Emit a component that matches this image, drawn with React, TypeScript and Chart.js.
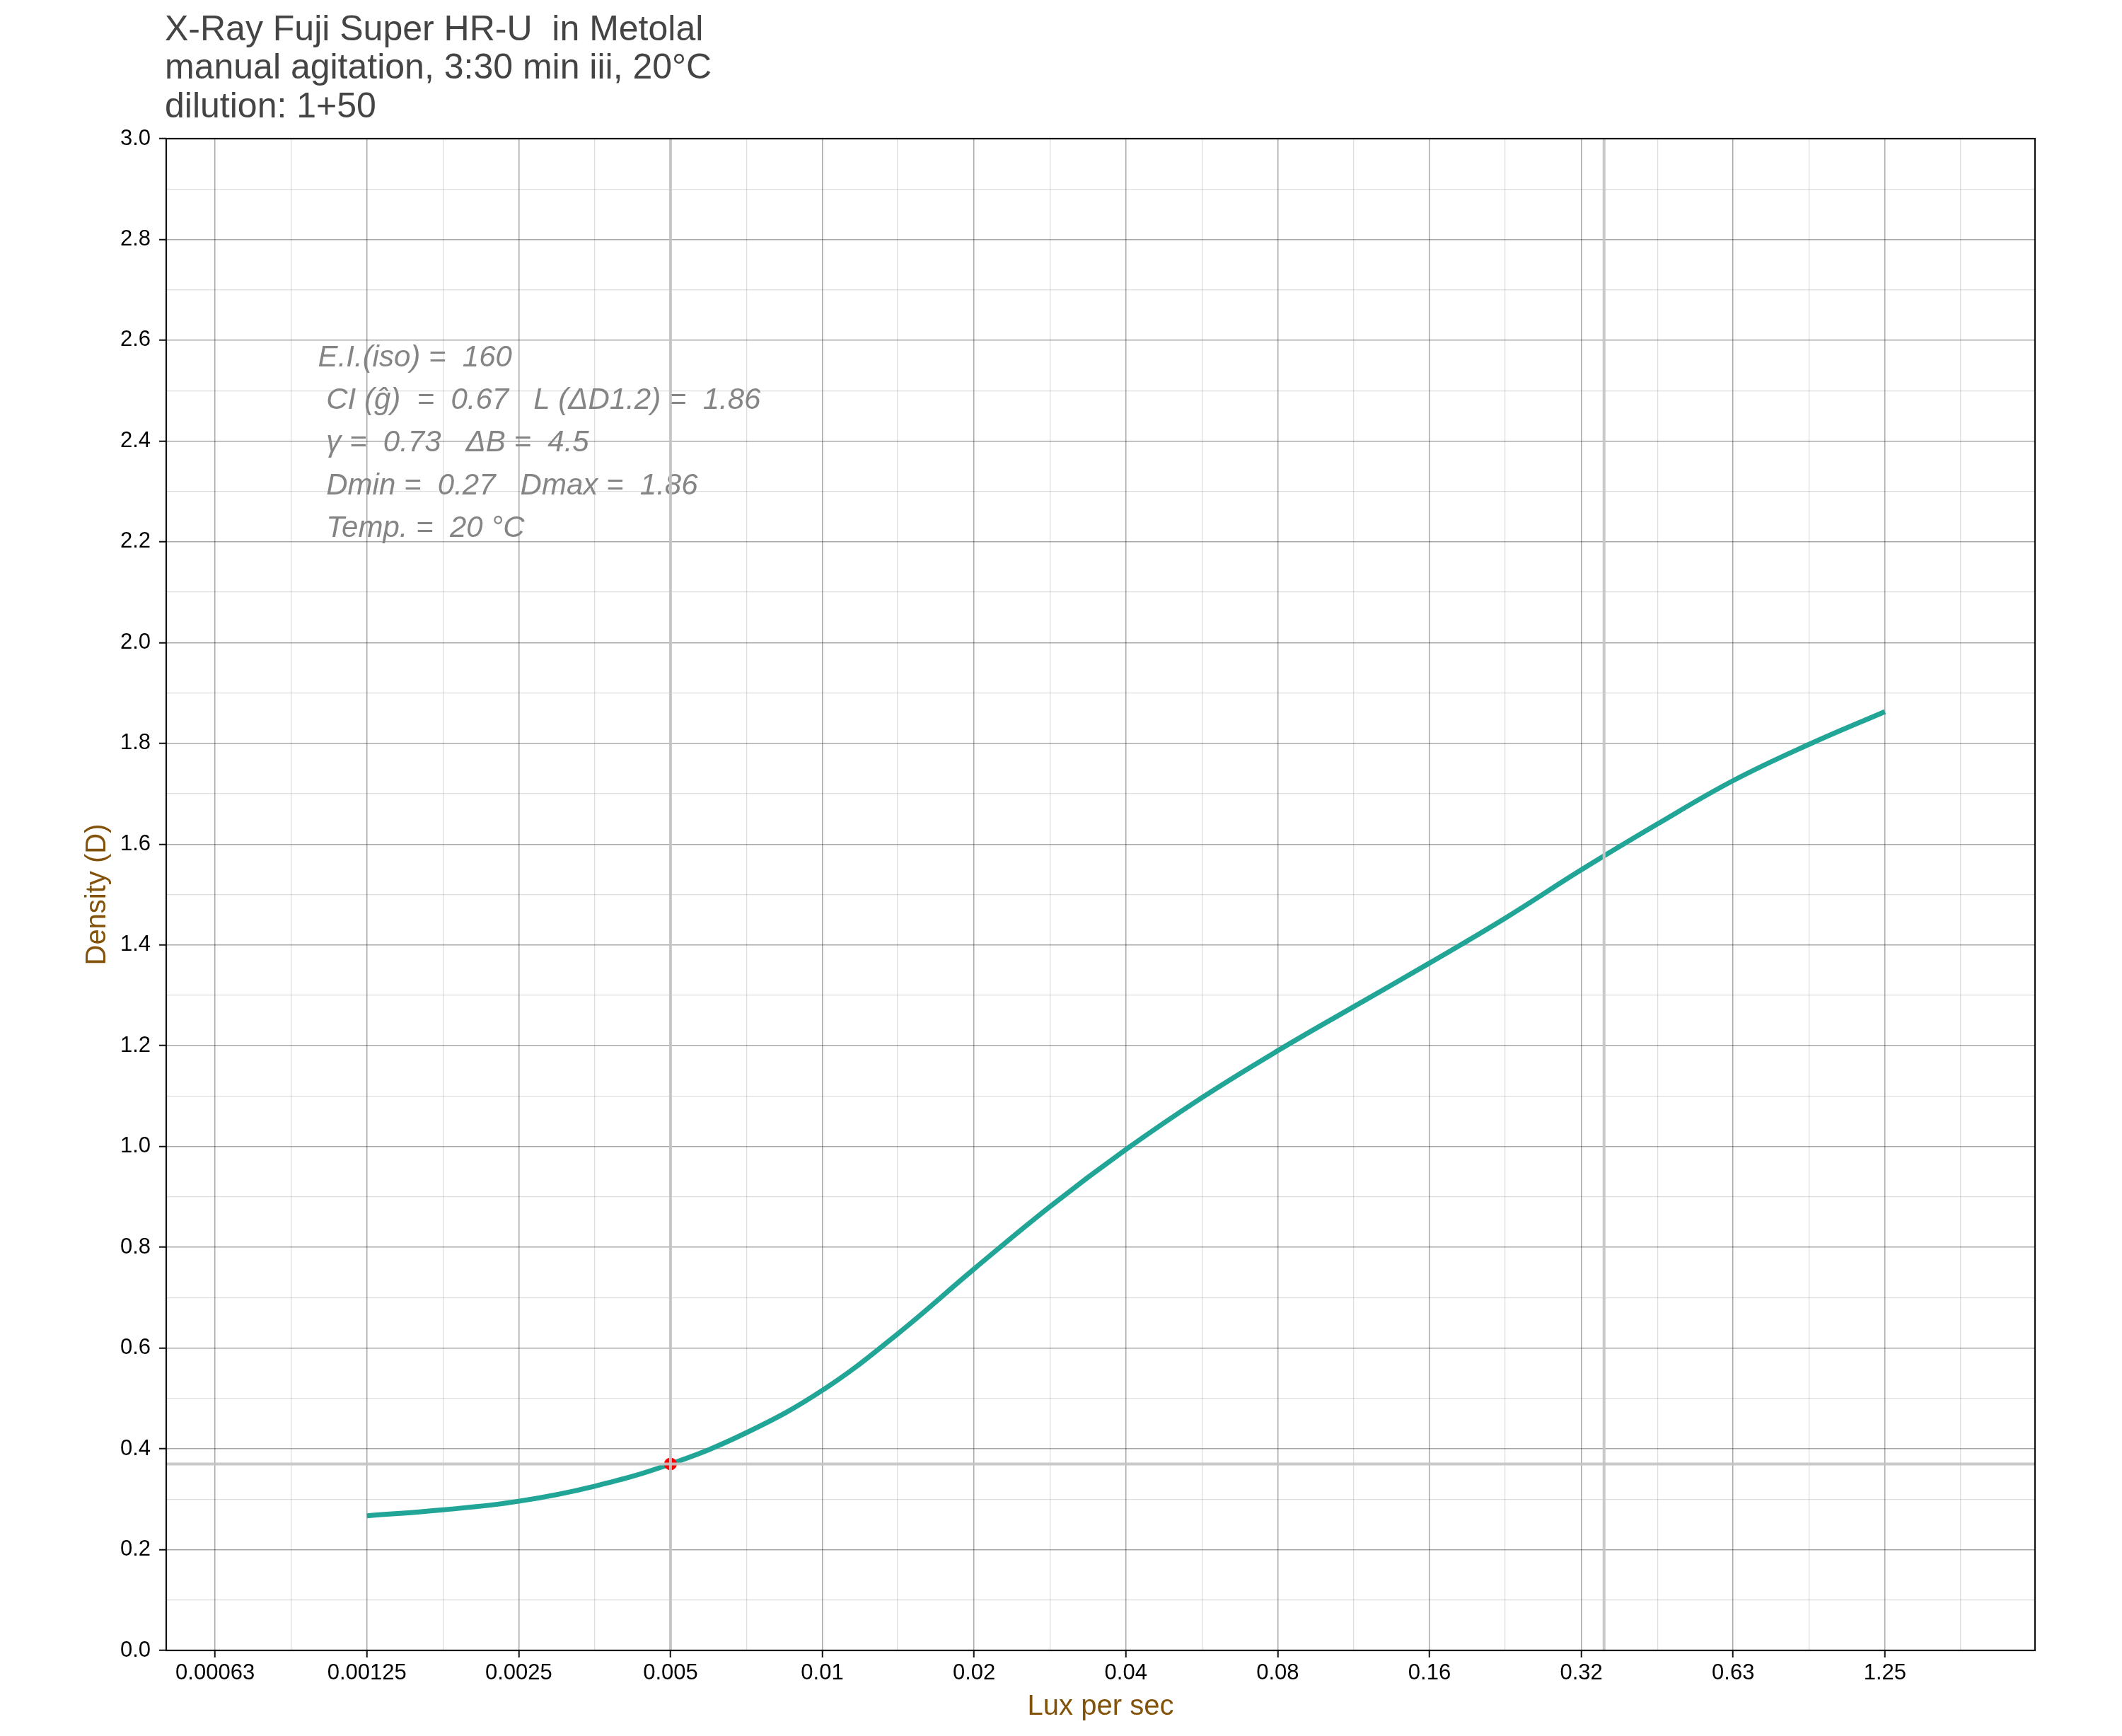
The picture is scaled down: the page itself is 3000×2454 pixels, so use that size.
import React, { useEffect, useRef } from "react";
import { Chart, registerables } from "chart.js";

Chart.register(...registerables);

// ---------- data ----------
const TITLE_LINES = [
  "X-Ray Fuji Super HR-U  in Metolal",
  "manual agitation, 3:30 min iii, 20°C",
  "dilution: 1+50",
];

const ANNOTATION_LINES = [
  "E.I.(iso) =  160",
  " CI (ĝ)  =  0.67   L (ΔD1.2) =  1.86",
  " γ =  0.73   ΔB =  4.5",
  " Dmin =  0.27   Dmax =  1.86",
  " Temp. =  20 °C",
];

const X_TICK_VALUES = [0.000625, 0.00125, 0.0025, 0.005, 0.01, 0.02, 0.04, 0.08, 0.16, 0.32, 0.64, 1.28];
const X_TICK_LABELS = ["0.00063", "0.00125", "0.0025", "0.005", "0.01", "0.02", "0.04", "0.08", "0.16", "0.32", "0.63", "1.25"];
const X_MINOR_VALUES = [0.000884, 0.00177, 0.00354, 0.00707, 0.0141, 0.0283, 0.0566, 0.113, 0.226, 0.453, 0.905, 1.81];
const X_MIN = 0.0005;
const X_MAX = 2.54;

const Y_MIN = 0;
const Y_MAX = 3;

const CURVE_LUX = [
  0.00125, 0.00177, 0.0025, 0.00354, 0.005, 0.00707, 0.01, 0.0141, 0.02, 0.0283, 0.04,
  0.0566, 0.08, 0.113, 0.16, 0.226, 0.32, 0.453, 0.64, 0.905, 1.28,
];
const CURVE_DENSITY = [
  0.267, 0.279, 0.296, 0.326, 0.37, 0.432, 0.516, 0.628, 0.757, 0.881, 0.994,
  1.097, 1.19, 1.277, 1.364, 1.453, 1.549, 1.64, 1.726, 1.798, 1.863,
];

const SPEED_POINT_LUX = 0.005;
const SPEED_POINT_DENSITY = 0.37;
const CONTRAST_LINE_LUX = 0.355;

const ANNOTATION_LUX = 0.001;
const ANNOTATION_DENSITY = 2.548;

// ---------- styles ----------
const FONT = '"Liberation Sans", Arial, Helvetica, sans-serif';
const CURVE_COLOR = "#21a597";
const REF_COLOR = "rgba(196,196,196,0.92)";
const GRID_MAJOR = "rgba(0,0,0,0.34)";
const GRID_MINOR = "rgba(0,0,0,0.13)";
const AXIS_TITLE_COLOR = "#83530b";

const isMajorY = (v: number) => Math.round(v * 10) % 2 === 0;

const overlayPlugin = {
  id: "overlay",
  beforeDatasetsDraw(chart: any) {
    const { ctx, scales } = chart;
    const x = scales.x.getPixelForValue(ANNOTATION_LUX);
    const y0 = scales.y.getPixelForValue(ANNOTATION_DENSITY);
    const step = scales.y.getPixelForValue(0) - scales.y.getPixelForValue(0.0845);
    ctx.save();
    ctx.fillStyle = "#858585";
    ctx.font = `italic 42px ${FONT}`;
    ctx.textAlign = "left";
    ctx.textBaseline = "alphabetic";
    ANNOTATION_LINES.forEach((t, i) => ctx.fillText(t, x, y0 + i * step));
    ctx.restore();
  },
  afterDraw(chart: any) {
    const { ctx, chartArea } = chart;
    ctx.save();
    ctx.strokeStyle = "#111";
    ctx.lineWidth = 2.2;
    ctx.strokeRect(chartArea.left, chartArea.top, chartArea.right - chartArea.left, chartArea.bottom - chartArea.top);
    ctx.fillStyle = "#444444";
    ctx.font = `50px ${FONT}`;
    ctx.textAlign = "left";
    ctx.textBaseline = "alphabetic";
    TITLE_LINES.forEach((t, i) => ctx.fillText(t, chartArea.left - 2, 57 + i * 54.3));
    ctx.restore();
  },
};

export default function App() {
  const canvasRef = useRef<HTMLCanvasElement | null>(null);

  useEffect(() => {
    const canvas = canvasRef.current;
    if (!canvas) return;

    const curve = CURVE_LUX.map((x, i) => ({ x, y: CURVE_DENSITY[i] }));

    const chart = new Chart(canvas, {
      type: "line",
      data: {
        datasets: [
          {
            label: "h-ref",
            data: [
              { x: X_MIN, y: SPEED_POINT_DENSITY },
              { x: X_MAX, y: SPEED_POINT_DENSITY },
            ],
            borderColor: REF_COLOR,
            borderWidth: 4,
            pointRadius: 0,
          },
          {
            label: "v-ref-speed",
            data: [
              { x: SPEED_POINT_LUX, y: Y_MIN },
              { x: SPEED_POINT_LUX, y: Y_MAX },
            ],
            borderColor: REF_COLOR,
            borderWidth: 4,
            pointRadius: 0,
          },
          {
            label: "v-ref-contrast",
            data: [
              { x: CONTRAST_LINE_LUX, y: Y_MIN },
              { x: CONTRAST_LINE_LUX, y: Y_MAX },
            ],
            borderColor: REF_COLOR,
            borderWidth: 4,
            pointRadius: 0,
          },
          {
            label: "speed point",
            data: [{ x: SPEED_POINT_LUX, y: SPEED_POINT_DENSITY }],
            showLine: false,
            pointRadius: 9,
            pointBackgroundColor: "#ff0000",
            pointBorderColor: "#ff0000",
            pointBorderWidth: 0,
          },
          {
            label: "curve",
            data: curve,
            borderColor: CURVE_COLOR,
            borderWidth: 7,
            pointRadius: 0,
            tension: 0.4,
            borderCapStyle: "butt",
          },
        ],
      },
      options: {
        animation: false,
        responsive: false,
        devicePixelRatio: 1,
        events: [],
        layout: { padding: { top: 196, right: 123, left: 0, bottom: 0 } },
        plugins: {
          legend: { display: false },
          tooltip: { enabled: false },
          title: { display: false },
        },
        scales: {
          x: {
            type: "logarithmic",
            min: X_MIN,
            max: X_MAX,
            bounds: "data",
            afterBuildTicks: (scale: any) => {
              const all = [
                ...X_TICK_VALUES.map((v) => ({ value: v, major: true })),
                ...X_MINOR_VALUES.filter((v) => v > X_MIN && v < X_MAX).map((v) => ({ value: v, major: false })),
              ].sort((a, b) => a.value - b.value);
              scale.ticks = all;
            },
            afterFit: (scale: any) => {
              scale.height = 121;
            },
            border: { display: false },
            grid: {
              color: (c: any) => (c.tick && c.tick.major ? GRID_MAJOR : GRID_MINOR),
              lineWidth: (c: any) => (c.tick && c.tick.major ? 1.5 : 1.3),
              tickColor: (c: any) => (c.tick && c.tick.major ? "#111" : "rgba(0,0,0,0)"),
              tickWidth: 2,
              tickLength: 10,
              drawTicks: true,
            },
            ticks: {
              autoSkip: false,
              maxRotation: 0,
              minRotation: 0,
              padding: 4,
              color: "#000",
              font: { family: FONT, size: 31 },
              callback: (value: any) => {
                const i = X_TICK_VALUES.indexOf(Number(value));
                return i >= 0 ? X_TICK_LABELS[i] : "";
              },
            },
            title: {
              display: true,
              text: "Lux per sec",
              color: AXIS_TITLE_COLOR,
              font: { family: FONT, size: 40 },
              padding: { top: 0, bottom: 17 },
            },
          },
          y: {
            type: "linear",
            min: Y_MIN,
            max: Y_MAX,
            afterFit: (scale: any) => {
              scale.width = 235;
            },
            border: { display: false },
            grid: {
              color: (c: any) => (c.tick && isMajorY(c.tick.value) ? GRID_MAJOR : GRID_MINOR),
              lineWidth: (c: any) => (c.tick && isMajorY(c.tick.value) ? 1.5 : 1.3),
              tickColor: (c: any) => (c.tick && isMajorY(c.tick.value) ? "#111" : "rgba(0,0,0,0)"),
              tickWidth: 2,
              tickLength: 10,
              drawTicks: true,
            },
            ticks: {
              stepSize: 0.1,
              autoSkip: false,
              padding: 12,
              color: "#000",
              font: { family: FONT, size: 31 },
              callback: (value: any) => (isMajorY(Number(value)) ? Number(value).toFixed(1) : ""),
            },
            title: {
              display: true,
              text: "Density (D)",
              color: AXIS_TITLE_COLOR,
              font: { family: FONT, size: 40 },
              padding: { top: 114, bottom: 0 },
            },
          },
        },
      },
      plugins: [overlayPlugin],
    });

    return () => chart.destroy();
  }, []);

  return (
    <div style={{ position: "absolute", left: 0, top: 0, width: 3000, height: 2454, background: "#fff" }}>
      <canvas ref={canvasRef} width={3000} height={2454} style={{ display: "block", width: 3000, height: 2454 }} />
    </div>
  );
}
